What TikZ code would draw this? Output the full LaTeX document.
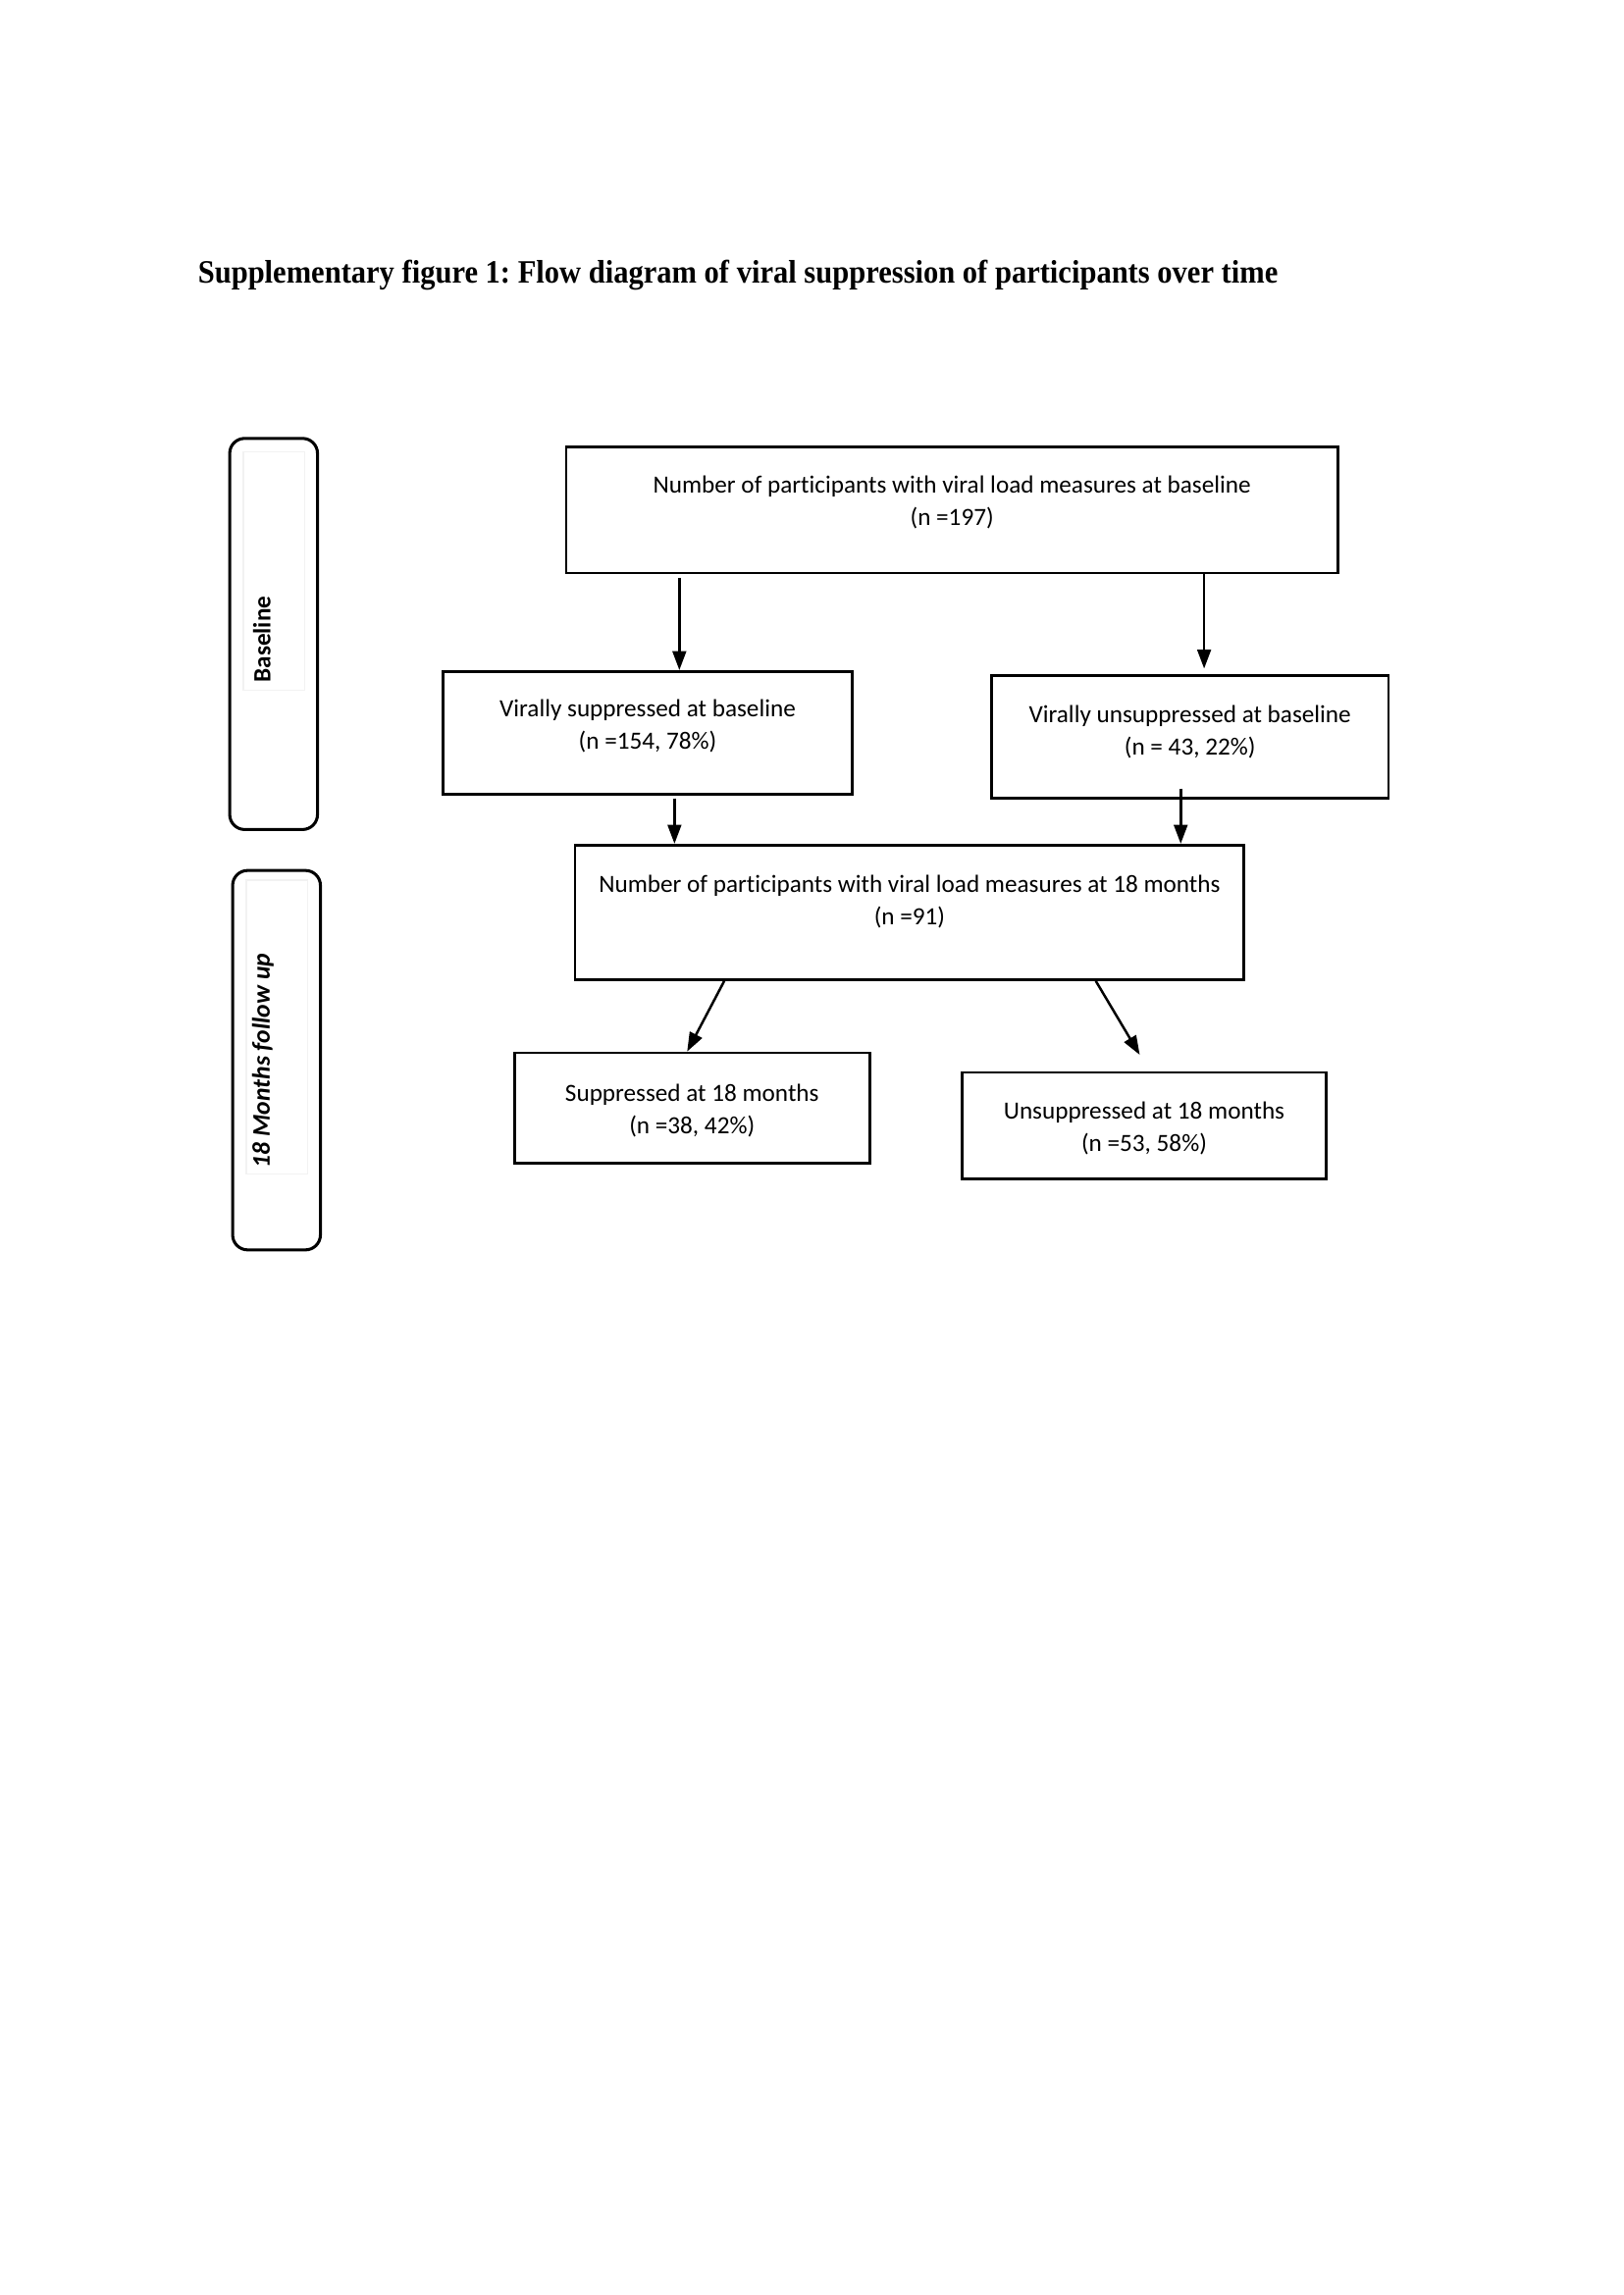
\documentclass[tikz,border=0pt]{standalone}
\usepackage{fontspec}
\usepackage{graphicx}
\setmainfont{Liberation Serif}
\newfontfamily\carl[RawFeature=-liga]{Carlito}
\usetikzlibrary{fit,arrows.meta}
\frenchspacing
\begin{document}
\begin{tikzpicture}[x=0.012622cm,y=-0.012622cm,
  boxx/.style={draw=black,line width=1pt,inner sep=0pt},
  side/.style={draw=black,line width=1.1pt,rounded corners=5.5pt,inner sep=0pt},
  faint/.style={draw=gray!10,line width=0.5pt,inner sep=0pt},
  txt/.style={font=\carl\fontsize{9.1}{11.9}\selectfont,align=center,inner sep=0pt},
  sidetxt/.style={font=\carl\bfseries\fontsize{9.1}{11}\selectfont,rotate=90,inner sep=0pt},
  arr/.style={line width=0.9pt,-{Triangle[length=7pt,width=5pt]}}]
\useasboundingbox (-1.5,-1.5) rectangle (1662.5,2351.6);
% title
\node[anchor=base west,inner sep=0pt,font=\bfseries\fontsize{12}{14}\selectfont] (title) at (201,289)
 {\scalebox{0.919}[1]{Supplementary figure 1: Flow diagram of viral suppression of participants over time}};
% side boxes
\node[side,fit={(234,448) (324,849)}] (sb) {};
\node[faint,fit={(248,462) (311,706)}] (sbf) {};
\node[sidetxt] (sbt) at (267,654) {Baseline};
\node[side,fit={(237,891) (327,1280)}] (sm) {};
\node[faint,fit={(251,901) (314,1202)}] (smf) {};
\node[sidetxt,font=\carl\bfseries\itshape\fontsize{9.25}{11}\selectfont] (smt) at (268,1086) {18 Months follow up};
% boxes
\node[boxx,fit={(579,457) (1370,586)}] (top) {};
\node[txt] (ttop) at (974.5,514) {Number of participants with viral load measures at baseline\\(n =197)};
\node[boxx,fit={(453,687) (872,813)}] (vs) {};
\node[txt] (tvs) at (662.5,743) {Virally suppressed at baseline\\(n =154, 78\%)};
\node[boxx,fit={(1015,691) (1422,817)}] (vu) {};
\node[txt] (tvu) at (1218.5,749) {Virally unsuppressed at baseline\\(n = 43, 22\%)};
\node[boxx,fit={(588,865) (1274,1003)}] (m18) {};
\node[txt] (tm18) at (931,923) {Number of participants with viral load measures at 18 months\\(n =91)};
\node[boxx,fit={(526,1078) (890,1191)}] (s18) {};
\node[txt] (ts18) at (708,1137) {Suppressed at 18 months\\(n =38, 42\%)};
\node[boxx,fit={(985,1098) (1358,1207)}] (u18) {};
\node[txt] (tu18) at (1171.5,1155) {Unsuppressed at 18 months\\(n =53, 58\%)};
% arrow x-positions
\coordinate (xa) at (695,0);
\coordinate (xb) at (1233,0);
\coordinate (xc) at (690,0);
\coordinate (xd) at (1209,0);
\coordinate (xe) at (741,0);
\coordinate (xf) at (703,0);
\coordinate (xg) at (1122,0);
\coordinate (a1s) at (695,591);
\coordinate (a3s) at (690,817);
\coordinate (a4s) at (1209,807);
\coordinate (a6e) at (1167,1080);
% connectors
\draw[arr] (a1s) -- (vs.north -| xa);
\draw[arr] (top.south -| xb) -- ([yshift=2pt]vu.north -| xb);
\draw[arr] (a3s) -- (m18.north -| xc);
\draw[arr] (a4s) -- (m18.north -| xd);
\draw[arr] (m18.south -| xe) -- (s18.north -| xf);
\draw[arr] (m18.south -| xg) -- (a6e);
\end{tikzpicture}
\end{document}
